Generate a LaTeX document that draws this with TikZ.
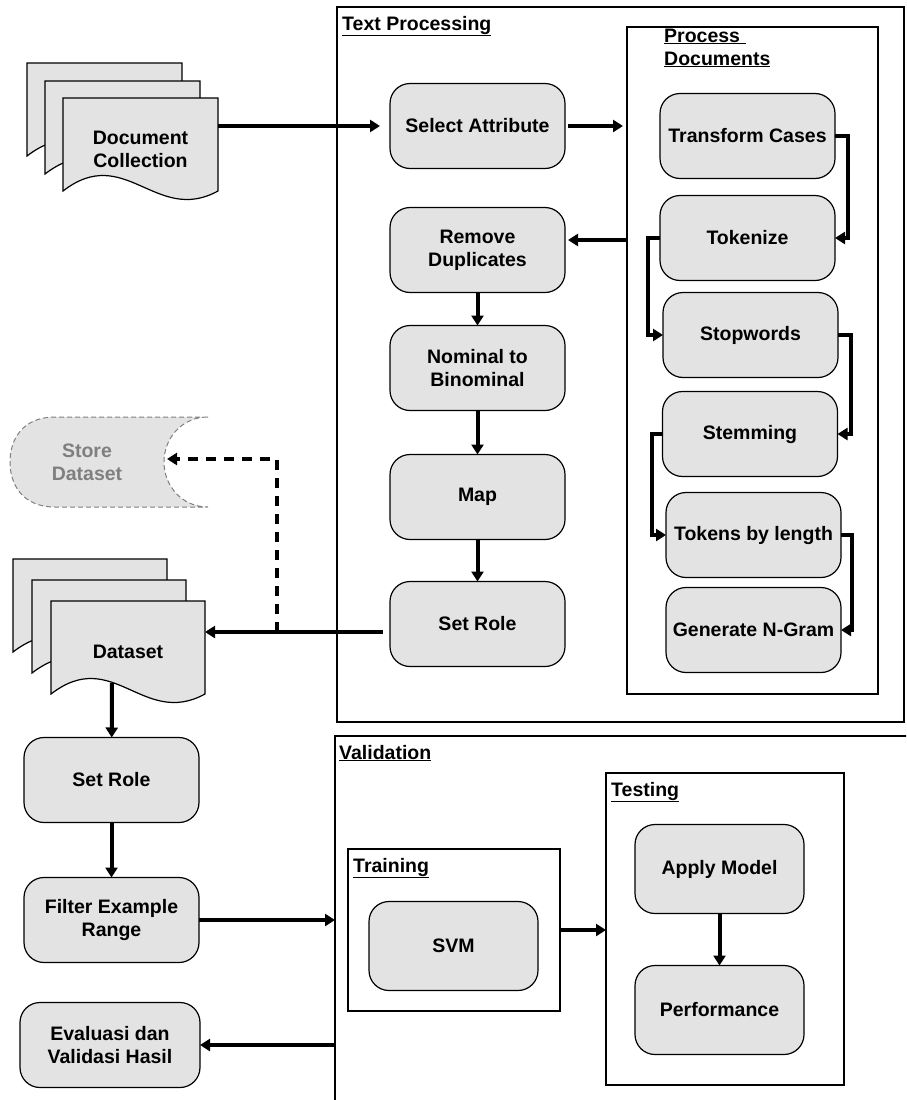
\documentclass[tikz,border=0pt]{standalone}
\usepackage{fontspec}
\setmainfont{Liberation Sans}
\usetikzlibrary{arrows.meta}
\definecolor{boxgray}{HTML}{E3E3E3}
\definecolor{storegray}{HTML}{7F7F7F}
\tikzset{
  proc/.style={draw, fill=boxgray, rounded corners=20pt, line width=1.2pt,
    minimum width=175pt, minimum height=85pt, inner sep=0pt, outer sep=0pt,
    align=center, font=\bfseries\fontsize{19.5}{23}\selectfont},
  frame/.style={draw, line width=1.2pt, inner sep=0pt, outer sep=0pt},
  lbl/.style={anchor=base west, inner sep=0pt, font=\bfseries\fontsize{19.5}{23}\selectfont},
  page/.style={draw, fill=boxgray, line width=1.2pt},
  doctext/.style={inner sep=0pt, align=center, font=\bfseries\fontsize{19.5}{23}\selectfont},
  arr/.style={line width=4pt, -{Triangle[length=10pt,width=12pt]}},
  dasharr/.style={arr, dash pattern=on 10pt off 8pt},
  storeshape/.style={draw=storegray, fill=boxgray, line width=1pt, dash pattern=on 5pt off 3pt}
}
\begin{document}
\begin{tikzpicture}[x=1pt, y=-1pt]
  \useasboundingbox (0,0) rectangle (906,1100);
  \clip (0,0) rectangle (906,1100);

  % Frames
  \node[frame, minimum width=567, minimum height=715] (tpbox) at (620.5,364.5) {};
  \node[frame, minimum width=251, minimum height=667] (pdbox) at (752.5,360.5) {};
  \node[frame, minimum width=590, minimum height=394] (valbox) at (630,933) {};
  \node[frame, minimum width=212, minimum height=162] (trainbox) at (454,930) {};
  \node[frame, minimum width=238, minimum height=312] (testbox) at (725,929) {};

  \node[lbl] (tplbl) at (342,30) {\underline{Text Processing}};
  \node[lbl] (pdlbla) at (664,42) {\underline{Process\ }};
  \node[lbl] (pdlblb) at (664,65) {\underline{Documents}};
  \node[lbl] (vallbl) at (339,759) {\underline{Validation}};
  \node[lbl] (trlbl) at (353,872) {\underline{Training}};
  \node[lbl] (tslbl) at (611,796) {\underline{Testing}};

  % Document stacks
  \foreach \dx/\dy in {0/0,18/18,36/35} {
    \draw[page] (27+\dx,63+\dy) -- ++(155,0) -- ++(0,93)
      .. controls +(-62,34) and +(62,-48) .. ++(-155,0) -- cycle;
  }
  \node[doctext, minimum width=155] (doccoll) at (140.5,149) {Document\\Collection};

  \foreach \dx/\dy in {0/0,19/21,38/42} {
    \draw[page] (13+\dx,559+\dy) -- ++(154,0) -- ++(0,93)
      .. controls +(-62,34) and +(62,-48) .. ++(-154,0) -- cycle;
  }
  \node[doctext, minimum width=154] (dataset) at (128,652) {Dataset};
  \coordinate (dsin) at (205,632);
  \coordinate (dsout) at (112,683);
  \coordinate (dsbranch) at (277,632);

  % Store Dataset
  \draw[storeshape] (208,417) -- (55,417) .. controls (22,417) and (10,440) .. (10,462)
    .. controls (10,484) and (22,507) .. (55,507) -- (208,507)
    .. controls (182,507) and (164,486) .. (164,462)
    .. controls (164,438) and (182,417) .. (208,417);
  \node[doctext, text=storegray] (store) at (87,462) {Store\\Dataset};
  \coordinate (storein) at (167,459);

  % Text Processing
  \node[proc] (sel) at (477.5,126) {Select Attribute};
  \node[proc] (rem) at (477.5,250) {Remove\\Duplicates};
  \node[proc] (nom) at (477.5,368) {Nominal to\\Binominal};
  \node[proc] (map) at (477.5,497) {Map};
  \node[proc] (setrole) at (477.5,624) {Set Role};
  \coordinate (remin) at ([yshift=10pt]rem.east);

  % Process Documents
  \node[proc] (tc) at (747.5,136) {Transform Cases};
  \node[proc] (tok) at (747.5,238) {Tokenize};
  \node[proc] (stop) at (750.5,335) {Stopwords};
  \node[proc] (stem) at (750,434) {Stemming};
  \node[proc] (tkl) at (753.5,535) {Tokens by length};
  \node[proc] (ngram) at (753.5,630) {Generate N-Gram};

  % Left column
  \node[proc] (setroleb) at (111.5,780) {Set Role};
  \node[proc] (filter) at (111.5,920) {Filter Example\\Range};
  \node[proc, minimum width=180] (eval) at (110,1045) {Evaluasi dan\\Validasi Hasil};

  % Validation
  \node[proc, minimum width=169, minimum height=89] (svm) at (453.5,946) {SVM};
  \node[proc, minimum width=169, minimum height=89] (apply) at (719.5,869) {Apply Model};
  \node[proc, minimum width=169, minimum height=89] (perf) at (719.5,1010) {Performance};

  % Arrows
  \draw[arr, shorten >=10pt] (doccoll.east |- sel.west) -- (sel.west);
  \draw[arr, shorten <=3pt, shorten >=4pt] (sel.east) -- (sel.east -| pdbox.west);
  \draw[arr, shorten >=3pt] (remin -| pdbox.west) -- (remin);
  \draw[arr] (rem) -- (nom);
  \draw[arr] (nom) -- (map);
  \draw[arr] (map) -- (setrole);
  \draw[arr, shorten <=7pt] (setrole.west |- dsin) -- (dsin);
  \draw[dasharr] (dsbranch) |- (storein);

  \draw[arr] (tc.east) -- ++(13,0) |- (tok.east);
  \draw[arr] (tok.west) -- ++(-12,0) |- (stop.west);
  \draw[arr] (stop.east) -- ++(13,0) |- (stem.east);
  \draw[arr] (stem.west) -- ++(-11,0) |- (tkl.west);
  \draw[arr] (tkl.east) -- ++(11,0) |- (ngram.east);

  \draw[arr] (dsout) -- (setroleb);
  \draw[arr] (setroleb) -- (filter);
  \draw[arr] (filter.east) -- (filter.east -| valbox.west);
  \draw[arr] (valbox.west |- eval.east) -- (eval.east);
  \draw[arr] (trainbox.east) -- (trainbox.east -| testbox.west);
  \draw[arr] (apply) -- (perf);
\end{tikzpicture}
\end{document}
